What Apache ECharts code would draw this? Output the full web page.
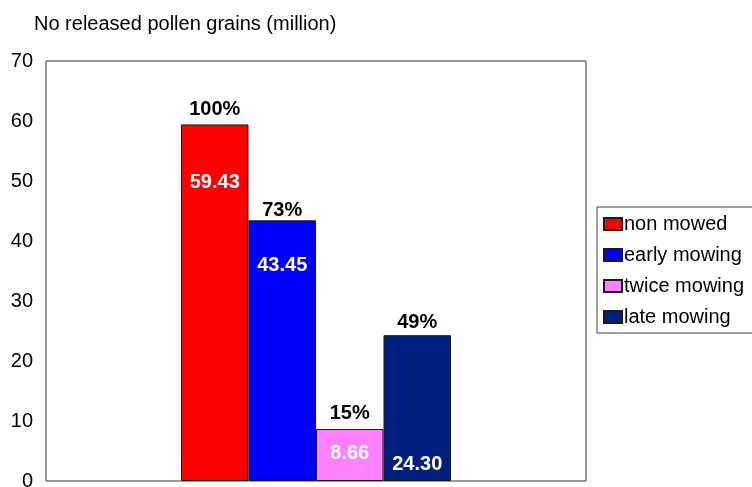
<!DOCTYPE html>
<html>
<head>
<meta charset="utf-8">
<script src="https://cdn.jsdelivr.net/npm/echarts@6/dist/echarts.min.js"></script>
<style>
html,body{margin:0;padding:0;background:#fff;}
#chart{width:752px;height:487px;}
</style>
</head>
<body>
<div id="chart"></div>
<script>
// ---- data ----
const categories = [''];
const seriesNames = ['non mowed', 'early mowing', 'twice mowing', 'late mowing'];
const values = [59.43, 43.45, 8.66, 24.30];
const valueTexts = ['59.43', '43.45', '8.66', '24.30'];
const percentLabels = ['100%', '73%', '15%', '49%'];
const yMin = 0, yMax = 70, yStep = 10;
const titleText = 'No released pollen grains (million)';

// ---- styles ----
const colors = ['#FF0000', '#0000FF', '#FF80FF', '#00207F'];
const valueLabelOffsets = [[0, 43], [0, 30], [0, 9], [0, 114]];
const pctLabelOffsets = [[0, 0], [0, 5], [0, -1], [0, 2]];
const FONT = '"Liberation Sans", Arial, sans-serif';

const series = [];
seriesNames.forEach((name, i) => {
  series.push({
    name: name,
    type: 'bar',
    stack: 's' + i,
    barWidth: 67.5,
    barGap: '0%',
    data: [values[i]],
    itemStyle: { color: colors[i], borderColor: '#1a1a1a', borderWidth: 1 },
    label: {
      show: true,
      position: 'insideTop',
      offset: valueLabelOffsets[i],
      formatter: () => valueTexts[i],
      color: '#fff',
      fontSize: 20,
      fontWeight: 'bold',
      fontFamily: FONT
    },
    emphasis: { disabled: true },
    silent: true,
    animation: false
  });
});
seriesNames.forEach((name, i) => {
  series.push({
    name: 'pct' + i,
    type: 'bar',
    stack: 's' + i,
    barWidth: 67.5,
    barGap: '0%',
    data: [0],
    itemStyle: { color: 'transparent', borderWidth: 0 },
    label: {
      show: true,
      position: 'top',
      offset: pctLabelOffsets[i],
      formatter: () => percentLabels[i],
      color: '#000',
      fontSize: 20,
      fontWeight: 'bold',
      fontFamily: FONT
    },
    emphasis: { disabled: true },
    silent: true,
    animation: false
  });
});

const chart = echarts.init(document.getElementById('chart'), null, { renderer: 'canvas' });
chart.setOption({
  animation: false,
  backgroundColor: '#fff',
  title: {
    text: titleText,
    left: 34,
    top: 14,
    padding: 0,
    textStyle: { fontSize: 20, fontWeight: 'normal', color: '#000', fontFamily: FONT }
  },
  legend: {
    data: seriesNames,
    orient: 'vertical',
    left: 597,
    top: 207,
    padding: [7, 40, 6, 6],
    itemGap: 11,
    itemWidth: 18,
    itemHeight: 12,
    icon: 'rect',
    borderColor: '#404040',
    borderWidth: 1,
    selectedMode: false,
    textStyle: { fontSize: 20, lineHeight: 20, color: '#000', fontFamily: FONT, padding: [0, 0, 0, -3] }
  },
  grid: {
    left: 46,
    right: 166,
    top: 61,
    bottom: 6,
    containLabel: false,
    outerBoundsMode: 'none',
    show: true,
    borderColor: '#333',
    borderWidth: 1,
    backgroundColor: 'transparent'
  },
  xAxis: {
    type: 'category',
    data: categories,
    axisLine: { show: false },
    axisTick: { show: false },
    axisLabel: { show: false },
    splitLine: { show: false }
  },
  yAxis: {
    type: 'value',
    min: yMin,
    max: yMax,
    interval: yStep,
    axisLine: { show: false },
    axisTick: { show: false },
    splitLine: { show: false },
    axisLabel: { color: '#000', fontSize: 20, margin: 13, fontFamily: FONT, padding: [3, 0, 0, 0] }
  },
  series: series
});
</script>
</body>
</html>
